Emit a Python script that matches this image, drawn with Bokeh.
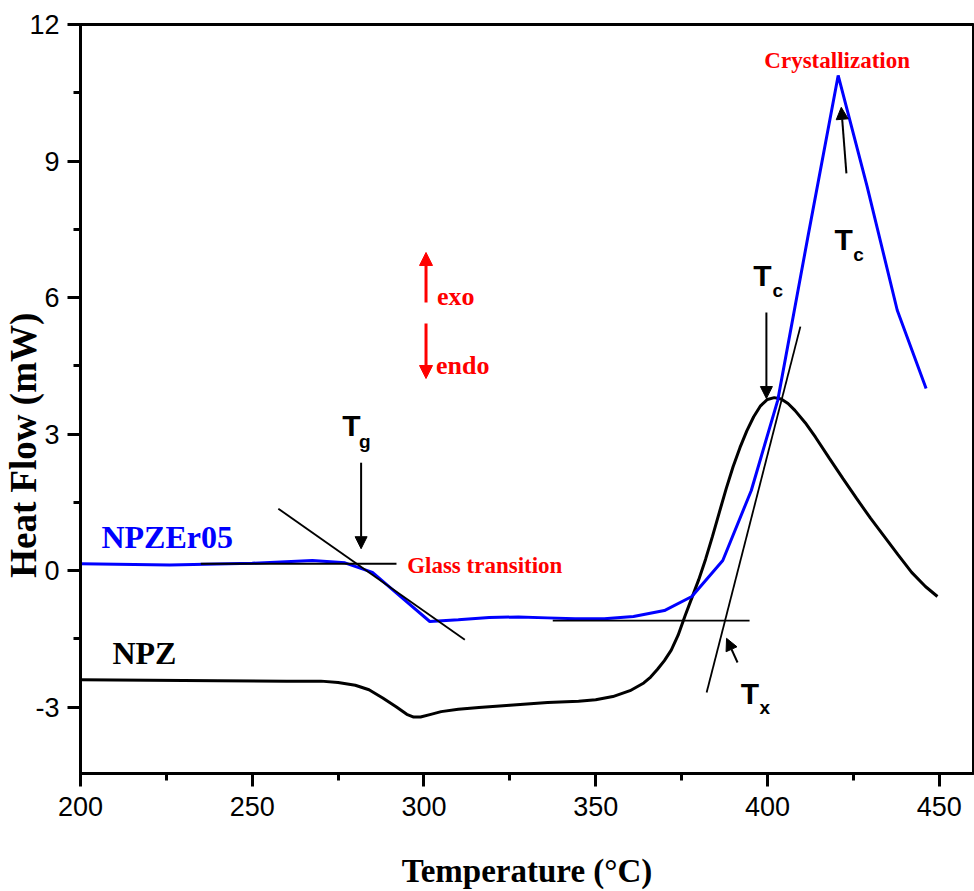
import math
from bokeh.plotting import figure
from bokeh.models import Range1d, SingleIntervalTicker, Label, Arrow, NormalHead
from bokeh.embed import file_html
from bokeh.resources import INLINE

# ---------------- data ----------------
npz_T = [200, 220, 240, 260, 270, 275, 280, 284, 288, 292, 295, 297, 299, 302, 305, 310,
         316, 325, 336, 345, 350, 355, 360, 364, 366, 368, 370, 372, 374, 376, 378, 380,
         382, 384, 386, 388, 390, 392, 394, 396, 398, 400, 402, 404, 406, 408, 411, 414,
         418, 422, 426, 430, 434, 438, 442, 446, 449.5]
npz_v = [-2.40, -2.41, -2.42, -2.43, -2.43, -2.46, -2.52, -2.62, -2.80, -3.00, -3.16, -3.22,
         -3.22, -3.16, -3.10, -3.05, -3.01, -2.96, -2.90, -2.87, -2.84, -2.77, -2.64, -2.47,
         -2.34, -2.17, -1.98, -1.75, -1.42, -1.00, -0.60, -0.20, 0.25, 0.75, 1.28, 1.80,
         2.28, 2.70, 3.07, 3.38, 3.62, 3.76, 3.80, 3.77, 3.67, 3.52, 3.25, 2.93, 2.47, 2.02,
         1.58, 1.15, 0.75, 0.35, -0.04, -0.35, -0.57]

er_T = [200, 226, 250, 267.5, 277, 285, 293.3, 301.7, 310, 319, 327.5, 336, 344, 352.5,
        361, 370, 378, 387, 395.3, 403, 411.7, 420.6, 429, 437.8, 446.2]
er_v = [0.15, 0.12, 0.16, 0.22, 0.17, -0.04, -0.58, -1.12, -1.08, -1.03, -1.02, -1.04,
        -1.06, -1.06, -1.01, -0.88, -0.57, 0.22, 1.76, 3.74, 7.30, 10.88, 8.45, 5.72, 4.00]

# tangent construction lines
tg_base_T = [235, 292]
tg_base_v = [0.15, 0.15]
tg_slope_T = [257.6, 311.9]
tg_slope_v = [1.36, -1.52]
tx_base_T = [337.5, 394.8]
tx_base_v = [-1.10, -1.10]
tx_slope_T = [382.3, 409.6]
tx_slope_v = [-2.68, 5.36]

# ---------------- figure ----------------
p = figure(width=974, height=891, output_backend="svg", toolbar_location=None,
           x_range=Range1d(200, 460), y_range=Range1d(-4.46, 12),
           min_border_left=80, min_border_right=1, min_border_top=24, min_border_bottom=110)
p.background_fill_color = "white"
p.border_fill_color = "white"
p.outline_line_color = "black"
p.outline_line_width = 3
p.xgrid.visible = False
p.ygrid.visible = False

p.xaxis.ticker = SingleIntervalTicker(interval=50, num_minor_ticks=2)
p.yaxis.ticker = SingleIntervalTicker(interval=3, num_minor_ticks=2)
for ax in (p.xaxis, p.yaxis):
    ax.axis_line_width = 3
    ax.major_tick_line_width = 3
    ax.minor_tick_line_width = 3
    ax.major_tick_in = 0
    ax.minor_tick_in = 0
    ax.major_tick_out = 13
    ax.minor_tick_out = 7
    ax.major_label_text_font = "Liberation Sans"
    ax.major_label_text_font_size = "27px"
    ax.major_label_text_color = "black"
    ax.axis_label_text_font = "Liberation Serif"
    ax.axis_label_text_font_style = "bold"
    ax.axis_label_text_color = "black"
p.xaxis.major_label_standoff = 10
p.yaxis.major_label_standoff = 8
p.yaxis.major_label_overrides = {-3: "-3"}

p.xaxis.axis_label = "Temperature (°C)"
p.xaxis.axis_label_text_font_size = "33px"
p.xaxis.axis_label_standoff = 34

p.yaxis.axis_label = "Heat Flow (mW)" + "\u00a0" * 10
p.yaxis.axis_label_text_font_size = "37px"
p.yaxis.axis_label_standoff = -18

# curves
p.line(npz_T, npz_v, line_color="black", line_width=3)
p.line(er_T, er_v, line_color="#0000FF", line_width=3)

# tangent lines
for tx, tv in ((tg_base_T, tg_base_v), (tg_slope_T, tg_slope_v),
               (tx_base_T, tx_base_v), (tx_slope_T, tx_slope_v)):
    p.line(tx, tv, line_color="black", line_width=1.8)

# arrows
def arrow(x0, y0, x1, y1, color="black", lw=2, size=12):
    p.add_layout(Arrow(x_start=x0, y_start=y0, x_end=x1, y_end=y1,
                       line_color=color, line_width=lw,
                       end=NormalHead(size=size, fill_color=color, line_color=color, line_width=1)))

arrow(281.7, 2.37, 281.7, 0.48)
arrow(399.7, 5.67, 399.7, 3.78)
arrow(423.0, 8.73, 421.5, 10.18)
arrow(391.3, -2.02, 388.1, -1.49)
arrow(300.6, 5.89, 300.6, 6.99, color="#FF0000", lw=3, size=13)
arrow(300.6, 5.43, 300.6, 4.22, color="#FF0000", lw=3, size=13)

# texts
def label(x, y, text, color="black", size="24px", font="Liberation Serif", style="bold"):
    p.add_layout(Label(x=x, y=y, text=text, text_color=color, text_font_size=size,
                       text_font=font, text_font_style=style, text_align="left",
                       text_baseline="alphabetic"))

label(303.8, 6.02, "exo", color="#FF0000", size="26px")
label(303.5, 4.51, "endo", color="#FF0000", size="26px")
label(295.1, 0.11, "Glass transition", color="#FF0000", size="23px")
label(399.1, 11.21, "Crystallization", color="#FF0000", size="23px")
label(206.1, 0.73, "NPZEr05", color="#0000FF", size="32px")
label(209.3, -1.82, "NPZ", color="black", size="32px")

sans = "Liberation Sans"
for (tx, ty, sx, sy, sub) in ((276.2, 3.19, 281.1, 2.84, "g"),
                              (395.9, 6.48, 401.5, 6.15, "c"),
                              (419.5, 7.27, 425.0, 6.95, "c"),
                              (392.2, -2.70, 397.7, -3.01, "x")):
    label(tx, ty, "T", size="30px", font=sans)
    label(sx, sy, sub, size="19px", font=sans)

open("out.html", "w").write(file_html(p, INLINE))
